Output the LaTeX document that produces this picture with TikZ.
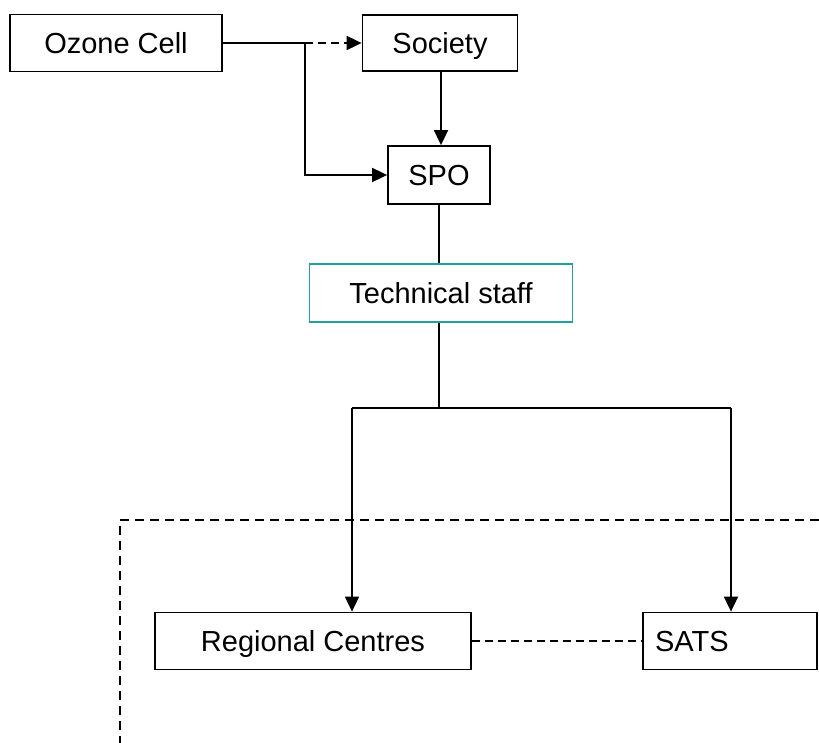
\documentclass[tikz,border=0pt]{standalone}
\usepackage{fontspec}
\setmainfont{Liberation Sans}
\usetikzlibrary{arrows.meta}
\begin{document}
\begin{tikzpicture}[x=1pt,y=-1pt,
  box/.style={draw=black,line width=1.8pt,fill=white,inner sep=0pt,text height=21pt,text depth=0pt,font=\fontsize{29}{32}\selectfont},
  tbox/.style={box,line width=1.6pt,draw={rgb,255:red,32;green,160;blue,160}},
  conn/.style={line width=1.8pt},
  arr/.style={conn,-{Triangle[length=15pt,width=14pt]}},
  dsh/.style={dash pattern=on 8pt off 5pt},
  outer/.style={line width=1.8pt,dash pattern=on 9pt off 6pt}]
\useasboundingbox (0,0) rectangle (819,743);
\node[box,minimum width=212pt,minimum height=57pt] (oz) at (116,43) {Ozone Cell};
\node[box,minimum width=155pt,minimum height=56pt] (soc) at (440,43) {Society};
\node[box,minimum width=102pt,minimum height=58pt] (spo) at (439,175) {SPO};
\node[tbox,minimum width=263pt,minimum height=58pt] (tech) at (441,293) {Technical staff};
\node[box,minimum width=316pt,minimum height=57pt] (rc) at (313,641) {Regional Centres};
\node[box,minimum width=174pt,minimum height=57pt,align=left,text width=150pt] (sats) at (730,641) {SATS};
\coordinate (j) at (305,43);
\coordinate (b) at (439,408);
\coordinate (bl) at (352,408);
\coordinate (br) at (731,408);
\coordinate (d1) at (819,520);
\coordinate (d2) at (120,520);
\coordinate (d3) at (120,743);
\draw[conn] (oz.east) -- (j);
\draw[arr,dsh] (j) -- (soc.west);
\draw[arr] (j) |- (spo.west);
\draw[arr] (soc.south -| 441,0) -- (441,0 |- spo.north);
\draw[conn] (spo.south) -- (tech.north -| spo.south);
\draw[conn] (tech.south -| b) -- (b);
\draw[conn] (bl) -- (br);
\draw[arr] (bl) -- (bl |- rc.north);
\draw[arr] (br) -- (br |- sats.north);
\draw[outer] (d1) -- (d2) -- (d3);
\draw[conn,dsh] (rc.east) -- (sats.west);
\end{tikzpicture}
\end{document}
